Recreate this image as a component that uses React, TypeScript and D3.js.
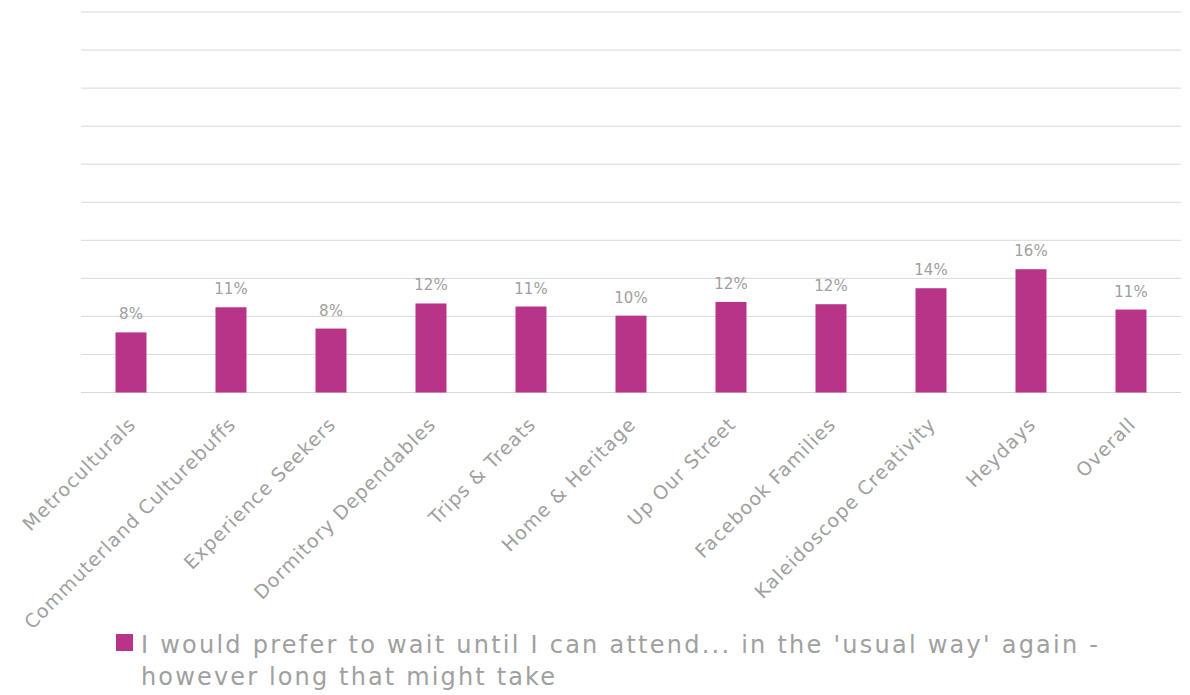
import React from "react";
import * as d3 from "d3";

const categories = [
  "Metroculturals",
  "Commuterland Culturebuffs",
  "Experience Seekers",
  "Dormitory Dependables",
  "Trips & Treats",
  "Home & Heritage",
  "Up Our Street",
  "Facebook Families",
  "Kaleidoscope Creativity",
  "Heydays",
  "Overall",
];
const values = [7.9, 11.2, 8.4, 11.7, 11.3, 10.1, 11.9, 11.6, 13.7, 16.2, 10.9];
const gridTicks = [0, 5, 10, 15, 20, 25, 30, 35, 40, 45, 50];
const legendLines = [
  "I would prefer to wait until I can attend... in the 'usual way' again -",
  "however long that might take",
];
const legendLengths = [957, 414];

const W = 1190;
const H = 695;
const plot = { left: 81, right: 1181, top: 12, bottom: 392.5 };
const barColor = "#B83488";
const textColor = "#A0A0A0";
const font = "'DejaVu Sans', sans-serif";

export default function App() {
  const x = d3
    .scaleBand<string>()
    .domain(categories)
    .range([plot.left, plot.right])
    .paddingInner(0.69)
    .paddingOuter(0.345);
  const y = d3.scaleLinear().domain([0, 50]).range([plot.bottom, plot.top]);

  return (
    <svg
      width={W}
      height={H}
      style={{ position: "absolute", left: 0, top: 0, background: "#fff" }}
    >
      {gridTicks.map((t) => (
        <line
          key={t}
          x1={plot.left}
          x2={plot.right}
          y1={y(t)}
          y2={y(t)}
          stroke="#D9D9D9"
          strokeWidth={1}
        />
      ))}
      {categories.map((c, i) => {
        const bx = x(c)!;
        const cx = bx + x.bandwidth() / 2;
        return (
          <g key={c}>
            <rect
              x={bx}
              y={y(values[i])}
              width={x.bandwidth()}
              height={plot.bottom - y(values[i])}
              fill={barColor}
            />
            <text
              x={cx}
              y={y(values[i]) - 13}
              textAnchor="middle"
              fontFamily={font}
              fontSize={15}
              fill={textColor}
            >
              {`${Math.round(values[i])}%`}
            </text>
            <text
              transform={`translate(${cx + 6},${plot.bottom + 33}) rotate(-45)`}
              textAnchor="end"
              fontFamily={font}
              fontSize={19}
              letterSpacing={1}
              fill={textColor}
            >
              {c}
            </text>
          </g>
        );
      })}
      <rect x={116} y={634} width={17} height={17} fill={barColor} />
      {legendLines.map((l, i) => (
        <text
          key={i}
          x={141}
          y={653 + i * 32}
          fontFamily={font}
          fontSize={24}
          textLength={legendLengths[i]}
          lengthAdjust="spacing"
          fill={textColor}
        >
          {l}
        </text>
      ))}
    </svg>
  );
}
